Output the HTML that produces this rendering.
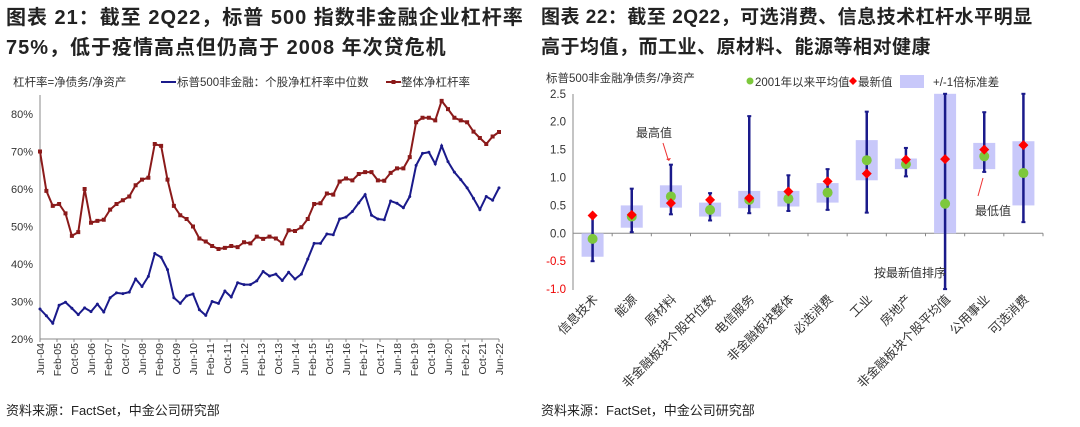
<!DOCTYPE html>
<html><head><meta charset="utf-8">
<style>
body{margin:0;background:#fff;width:1080px;height:427px;overflow:hidden;font-family:"Liberation Sans","Noto Sans CJK SC",sans-serif}
.t{position:absolute;font-weight:bold;font-size:18px;color:#222;line-height:30px;white-space:nowrap}
.src{position:absolute;top:400px;font-size:13px;color:#222}
svg{position:absolute;left:0;top:0}
svg text{font-family:"Liberation Sans","Noto Sans CJK SC",sans-serif;fill:#333}
</style></head><body>
<div class="t" style="left:6px;top:3px;font-size:20px;letter-spacing:1px">图表 21：截至 2Q22，标普 500 指数非金融企业杠杆率<br>75%，低于疫情高点但仍高于 2008 年次贷危机</div>
<div class="t" style="left:541px;top:3px;font-size:19px;letter-spacing:0.5px">图表 22：截至 2Q22，可选消费、信息技术杠杆水平明显<br>高于均值，而工业、原材料、能源等相对健康</div>
<div class="src" style="left:6px">资料来源：FactSet，中金公司研究部</div>
<div class="src" style="left:541px">资料来源：FactSet，中金公司研究部</div>
<svg id="c" width="1080" height="427" xmlns="http://www.w3.org/2000/svg"></svg>
<script>
const leftTickLabels=["Jun-04","Feb-05","Oct-05","Jun-06","Feb-07","Oct-07","Jun-08","Feb-09","Oct-09","Jun-10","Feb-11","Oct-11","Jun-12","Feb-13","Oct-13","Jun-14","Feb-15","Oct-15","Jun-16","Feb-17","Oct-17","Jun-18","Feb-19","Oct-19","Jun-20","Feb-21","Oct-21","Jun-22"];
const leftYTicks=[20,30,40,50,60,70,80];
const overallLeverage=[70,59.5,55.5,56,53.5,47.5,48.5,60,51,51.5,51.8,54.5,56,57,58,61,62.5,63,72,71.5,62.5,55.5,53,52,50,46.8,46,44.8,44,44.3,44.8,44.5,45.8,45.5,47.3,46.7,47.3,46.8,45.5,49,48.8,49.8,52,56,56.2,58.8,58.5,62,62.8,62.3,64,64.5,64.5,62.3,62.2,64.3,65.5,65.5,68.5,77.8,79,79,78.3,83.5,81.3,79,78.3,77.8,75.3,73.6,72,74,75.2];
const medianLeverage=[28,26.2,24.2,29,29.8,28.2,26.5,28.3,27.3,29.3,27.2,31,32.3,32.1,32.5,36,34,36.7,42.8,41.8,38.5,31,29.5,31.5,32,27.8,26.3,30,29.5,32.8,31.2,35,34.5,34.5,35.5,38,36.8,37.3,35.6,37.8,36,37.3,41.3,45.5,45.5,48,47.8,52,52.5,54,56.3,58.5,53,52,51.8,56.8,56.2,55,58,66.3,69.5,69.8,66.7,71.5,67.3,64.5,62.5,60.3,57.5,54.5,58,57,60.3];

const sectors=["信息技术","能源","原材料","非金融板块个股中位数","电信服务","非金融板块整体","必选消费","工业","房地产","非金融板块个股平均值","公用事业","可选消费"];
const meanValues=[-0.1,0.3,0.66,0.42,0.6,0.62,0.73,1.31,1.24,0.53,1.38,1.08];
const latestValues=[0.32,0.33,0.54,0.6,0.63,0.75,0.93,1.07,1.32,1.33,1.5,1.58];
const boxLow=[-0.42,0.1,0.46,0.3,0.45,0.48,0.55,0.95,1.15,0,1.15,0.5];
const boxHigh=[0,0.5,0.86,0.55,0.76,0.76,0.9,1.67,1.34,2.5,1.62,1.65];
const whiskerMin=[-0.5,0.02,0.34,0.23,0.36,0.4,0.42,0.37,1.02,-1,1.1,0.2];
const whiskerMax=[0.32,0.8,1.23,0.72,2.1,1.04,1.15,2.18,1.53,2.5,2.17,2.5];
const rightYTicks=[-1.0,-0.5,0.0,0.5,1.0,1.5,2.0,2.5];

const svg=document.getElementById('c');
const NS='http://www.w3.org/2000/svg';
function mk(tag,attrs,parent){const e=document.createElementNS(NS,tag);for(const k in attrs)e.setAttribute(k,attrs[k]);(parent||svg).appendChild(e);return e;}
function tx(x,y,s,attrs){const e=mk('text',Object.assign({x:x,y:y},attrs||{}));e.textContent=s;return e;}

// ---- Left chart
const lx0=40,lx1=499,ly=v=>339-(v-20)*3.75;
const lxi=i=>lx0+i*(lx1-lx0)/(overallLeverage.length-1);
let a=mk('line',{x1:lx0,y1:95,x2:lx0,y2:339,stroke:'#888'});

a=mk('line',{x1:lx0,y1:339,x2:lx1,y2:339,stroke:'#888'});

leftYTicks.forEach(v=>{const t=tx(33,ly(v)+4,v+'%',{'text-anchor':'end','font-size':11});
});
leftTickLabels.forEach((s,j)=>{const x=lx0+j*(lx1-lx0)/(leftTickLabels.length-1);
mk('line',{x1:x,y1:339,x2:x,y2:342,stroke:'#888'});
const t=tx(0,0,s,{'text-anchor':'end','font-size':10.5,transform:`translate(${x+4},343) rotate(-90)`});
});
function series(data,color,name,marker){
 const pts=data.map((v,i)=>lxi(i)+','+ly(v)).join(' ');
 const p=mk('polyline',{points:pts,fill:'none',stroke:color,'stroke-width':2});
 
 data.forEach((v,i)=>{let m;
  if(marker==='sq')m=mk('rect',{x:lxi(i)-2,y:ly(v)-2,width:4,height:4,fill:color});
  else m=mk('circle',{cx:lxi(i),cy:ly(v),r:1.5,fill:color});
  });
}
series(overallLeverage,'#8b1a1a','overall-leverage-line','sq');
series(medianLeverage,'#1a1a8b','median-leverage-line','dot');
tx(13,86,'杠杆率=净债务/净资产',{'font-size':11.5});
mk('line',{x1:161,y1:82,x2:176,y2:82,stroke:'#1a1a8b','stroke-width':2});
tx(177,86,'标普500非金融：个股净杠杆率中位数',{'font-size':11.5});
mk('line',{x1:386,y1:82,x2:401,y2:82,stroke:'#8b1a1a','stroke-width':2});
mk('rect',{x:391.5,y:80,width:4,height:4,fill:'#8b1a1a'});
tx(401,86,'整体净杠杆率',{'font-size':11.5});

// ---- Right chart
const rx0=573,rx1=1043,ry=v=>233.3-v*55.8;
const bw=(rx1-rx0)/sectors.length,rcx=i=>rx0+bw*(i+0.5);
a=mk('line',{x1:rx0,y1:94,x2:rx0,y2:290,stroke:'#888'});

a=mk('line',{x1:rx0,y1:ry(0),x2:rx1,y2:ry(0),stroke:'#888'});

rightYTicks.forEach(v=>{const t=tx(566,ry(v)+4,v.toFixed(1),{'text-anchor':'end','font-size':11.5,style:v<0?'fill:#e00':''});
});
sectors.forEach((s,i)=>{const x=rcx(i);
 mk('line',{x1:rx0+bw*(i+1),y1:ry(0),x2:rx0+bw*(i+1),y2:ry(0)+3,stroke:'#888'});
 const b=mk('rect',{x:x-11,y:ry(boxHigh[i]),width:22,height:ry(boxLow[i])-ry(boxHigh[i]),fill:'#c8c8fa'});
 
 const w=mk('line',{x1:x,y1:ry(whiskerMax[i]),x2:x,y2:ry(whiskerMin[i]),stroke:'#1a1a8b','stroke-width':2.5});
 
 mk('line',{x1:x-2,y1:ry(whiskerMax[i]),x2:x+2,y2:ry(whiskerMax[i]),stroke:'#1a1a8b','stroke-width':2});
 mk('line',{x1:x-2,y1:ry(whiskerMin[i]),x2:x+2,y2:ry(whiskerMin[i]),stroke:'#1a1a8b','stroke-width':2});
 const m=mk('circle',{cx:x,cy:ry(meanValues[i]),r:5,fill:'#7dc83c'});
 
 const y=ry(latestValues[i]);
 const d=mk('polygon',{points:`${x},${y-5} ${x+5},${y} ${x},${y+5} ${x-5},${y}`,fill:'#f00'});
 
 const t=tx(0,0,s,{'text-anchor':'end','font-size':12.5,transform:`translate(${x+6},300) rotate(-45)`});
 
});
tx(546,82,'标普500非金融净债务/净资产',{'font-size':11.5});
mk('circle',{cx:750,cy:81,r:3.5,fill:'#7dc83c'});
tx(755,86,'2001年以来平均值',{'font-size':11.5});
mk('polygon',{points:'853,77 857,81 853,85 849,81',fill:'#f00'});
tx(858,86,'最新值',{'font-size':11.5});
mk('rect',{x:900,y:75,width:24,height:13,fill:'#c8c8fa'});
tx(933,86,'+/-1倍标准差',{'font-size':11.5});
tx(636,137,'最高值',{'font-size':12});
mk('line',{x1:663,y1:143,x2:668,y2:159,stroke:'#e33'});
mk('polygon',{points:'666,159 671,158 669,161',fill:'#e33'});
tx(975,215,'最低值',{'font-size':12});
mk('line',{x1:978,y1:196,x2:983,y2:178,stroke:'#e33'});
tx(874,277,'按最新值排序',{'font-size':12});
</script>
</body></html>
